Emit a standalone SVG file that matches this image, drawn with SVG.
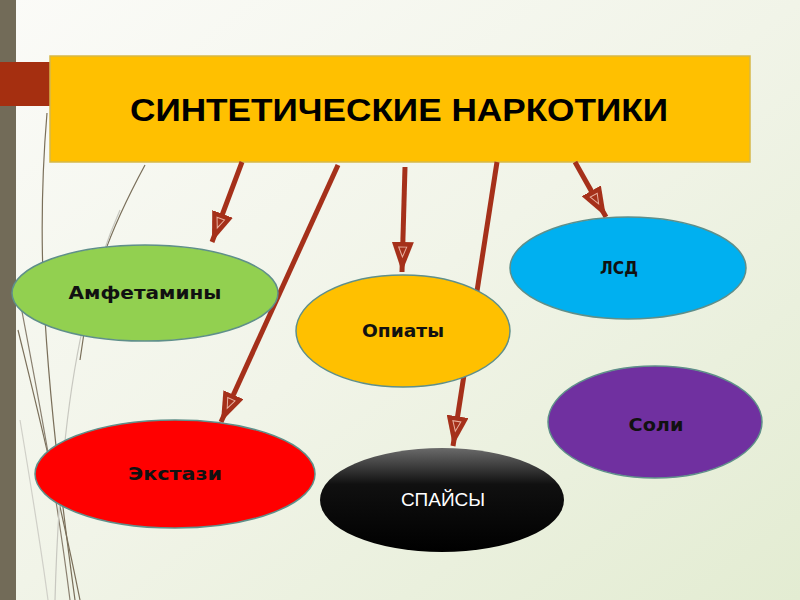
<svg xmlns="http://www.w3.org/2000/svg" width="800" height="600" viewBox="0 0 800 600">
<defs>
<linearGradient id="bg" x1="0" y1="0" x2="1" y2="1">
<stop offset="0" stop-color="#fbfbf8"/>
<stop offset="0.5" stop-color="#f1f4e8"/>
<stop offset="1" stop-color="#e3ecd2"/>
</linearGradient>
<linearGradient id="spice" x1="0" y1="0" x2="0" y2="1">
<stop offset="0" stop-color="#6a6a6a"/>
<stop offset="0.35" stop-color="#101010"/>
<stop offset="1" stop-color="#000000"/>
</linearGradient>
<marker id="ah" viewBox="0 0 30 22" refX="30" refY="11" markerWidth="30" markerHeight="22" markerUnits="userSpaceOnUse" orient="auto">
<path d="M0,0 L30,11 L0,22 Z" fill="#a5301a"/>
<path d="M5,7 L15,11 L5,15 Z" fill="none" stroke="#e8b0a0" stroke-width="1"/>
</marker>
<style>
.lbl{font-family:"DejaVu Sans","Liberation Sans",sans-serif;font-weight:bold;font-size:17px;fill:#111;text-anchor:middle;dominant-baseline:central}
.ell{stroke:#5f8f8a;stroke-width:1.5}
.conn{stroke:#a5301a;stroke-width:5;fill:none;marker-end:url(#ah)}
.deco{fill:none;stroke-width:1.2}
</style>
</defs>
<rect width="800" height="600" fill="url(#bg)"/>
<g id="decor">
<path class="deco" stroke="#7a6f5a" d="M47,113 C38,220 38,330 75,600"/>
<path class="deco" stroke="#7a6f5a" d="M18,330 C40,420 60,500 80,600"/>
<path class="deco" stroke="#8a8070" d="M16,280 C35,380 55,480 70,600"/>
<path class="deco" stroke="#7a6f5a" d="M145,165 C110,230 90,280 80,360"/>
<path class="deco" stroke="#c8c8c0" d="M120,210 C80,300 60,420 55,600"/>
<path class="deco" stroke="#d0d0c8" d="M20,420 C30,480 40,540 48,600"/>
<rect x="0" y="0" width="16" height="600" fill="#726b58"/>
<rect x="0" y="62" width="50" height="44" fill="#a52f10"/>
</g>
<g id="title">
<rect x="50" y="56" width="700" height="106" fill="#ffc000" stroke="#d6b848" stroke-width="1.5"/>
<text x="399" y="110" font-family="'Liberation Sans',Arial,sans-serif" font-weight="bold" font-size="32" fill="#000" text-anchor="middle" dominant-baseline="central" textLength="538" lengthAdjust="spacingAndGlyphs">СИНТЕТИЧЕСКИЕ НАРКОТИКИ</text>
</g>
<g id="connectors">
<line class="conn" x1="242" y1="162" x2="212" y2="242"/>
<line class="conn" x1="338" y1="165" x2="221" y2="422"/>
<line class="conn" x1="405" y1="167" x2="402" y2="272"/>
<line class="conn" x1="497" y1="162" x2="453" y2="446"/>
<line class="conn" x1="575" y1="162" x2="606" y2="217"/>
</g>
<g id="amph">
<ellipse class="ell" cx="145" cy="293" rx="133" ry="48" fill="#92d050"/>
<text class="lbl" x="145" y="293" textLength="153" lengthAdjust="spacingAndGlyphs">Амфетамины</text>
</g>
<g id="opiates">
<ellipse class="ell" cx="403" cy="331" rx="107" ry="56" fill="#ffc000"/>
<text class="lbl" x="403" y="331" textLength="82" lengthAdjust="spacingAndGlyphs">Опиаты</text>
</g>
<g id="lsd">
<ellipse class="ell" cx="628" cy="268" rx="118" ry="51" fill="#00b0f0"/>
<text class="lbl" x="619" y="268" textLength="38" lengthAdjust="spacingAndGlyphs">ЛСД</text>
</g>
<g id="salts">
<ellipse class="ell" cx="655" cy="422" rx="107" ry="56" fill="#7030a0"/>
<text class="lbl" x="656" y="425" textLength="55" lengthAdjust="spacingAndGlyphs">Соли</text>
</g>
<g id="ecstasy">
<ellipse class="ell" cx="175" cy="474" rx="140" ry="54" fill="#ff0000"/>
<text class="lbl" x="175" y="474" textLength="94" lengthAdjust="spacingAndGlyphs">Экстази</text>
</g>
<g id="spice">
<ellipse cx="442" cy="500" rx="122" ry="52" fill="url(#spice)"/>
<text x="443" y="499" font-family="'Liberation Sans',Arial,sans-serif" font-size="19" fill="#fff" text-anchor="middle" dominant-baseline="central">СПАЙСЫ</text>
</g>
</svg>
